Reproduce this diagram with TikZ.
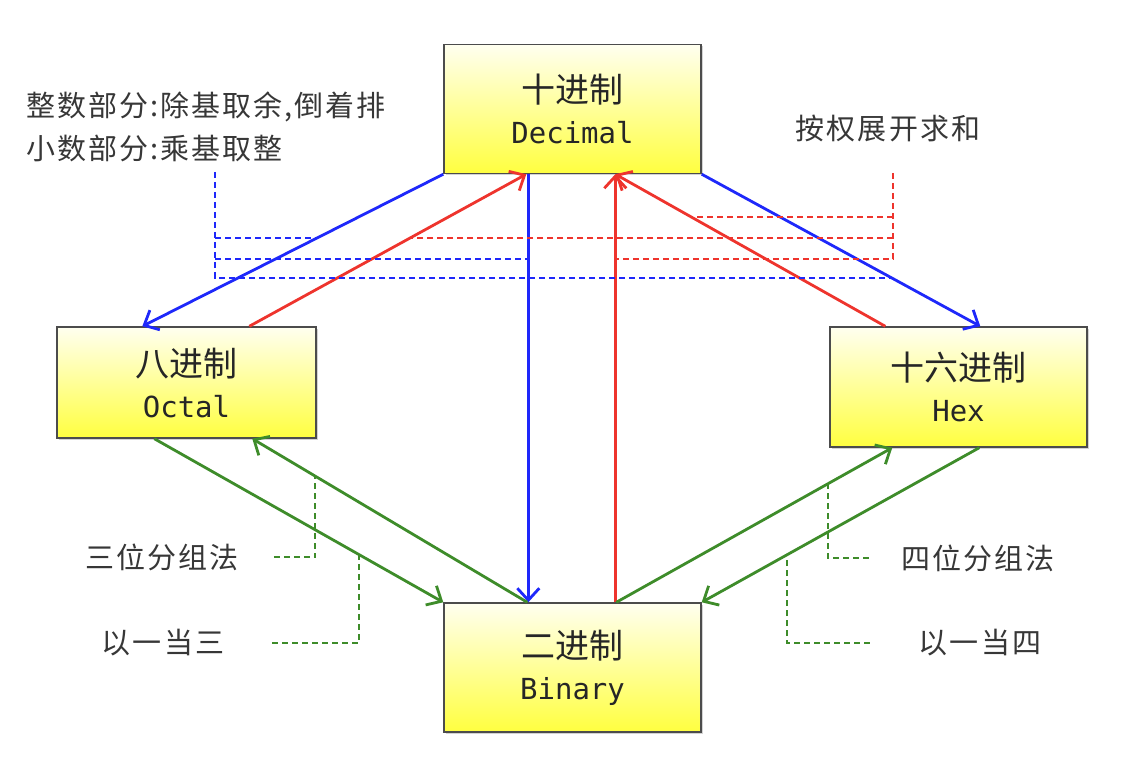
\documentclass[tikz,border=0pt]{standalone}
\usepackage{fontspec}
\usepackage{xcolor}
\usepackage{tikz}
\usetikzlibrary{calc,arrows.meta,shadows}
\newfontfamily\cnfont{Noto Sans CJK SC}
\newfontfamily\cnwide{Noto Sans CJK SC}[LetterSpace=7]
\newfontfamily\enfont{DejaVu Sans Mono}
\definecolor{convB}{RGB}{30,40,250}
\definecolor{convR}{RGB}{238,52,45}
\definecolor{convG}{RGB}{62,140,42}
\definecolor{noteC}{RGB}{55,55,55}
\colorlet{boxTop}{yellow!6}
\colorlet{boxBot}{yellow!75}
\newcommand{\radix}[2]{{\cnfont\fontsize{34}{41}\selectfont #1}\\{\enfont\fontsize{29}{41}\selectfont #2}}

\begin{document}
\begin{tikzpicture}[x=1pt, y=-1pt,
    numbox/.style={draw=black!70, line width=1.4pt, top color=boxTop, bottom color=boxBot,
      align=center, inner sep=0pt, text=black!85, font=\fontsize{30}{41}\selectfont,
      drop shadow={shadow xshift=1.5pt, shadow yshift=-1.5pt, opacity=0.35}},
    conv/.style={line width=2.8pt, -{Straight Barb[length=12pt,width=22pt]}},
    hint/.style={line width=1.8pt, dash pattern=on 6pt off 4pt},
    note/.style={text=noteC, font=\cnwide\fontsize{29}{36}\selectfont, inner sep=0pt}]
      \useasboundingbox (0,0) rectangle (1128,778);

      % Number systems
      \node[numbox, minimum width=257pt, minimum height=129pt] (dec) at (572.5,109) {\radix{十进制}{Decimal}};
      \node[numbox, minimum width=259pt, minimum height=111pt] (oct) at (186.5,382.5) {\radix{八进制}{Octal}};
      \node[numbox, minimum width=257pt, minimum height=120pt] (hex) at (958.5,387) {\radix{十六进制}{Hex}};
      \node[numbox, minimum width=257pt, minimum height=129pt] (bin) at (572.5,667.5) {\radix{二进制}{Binary}};

      % Decimal -> others (blue)
      \draw[conv, convB] (dec.south west) -- coordinate[pos=0.419] (b1) ([xshift=86pt]oct.north west);
      \draw[conv, convB] ([xshift=85pt]dec.south west) -- coordinate[pos=0.198] (b2) ([xshift=85pt]bin.north west);
      \draw[conv, convB] (dec.south east) -- coordinate[pos=0.682] (b3) ([xshift=151pt]hex.north west);

      % others -> Decimal (red)
      \draw[conv, convR] ([xshift=193pt]oct.north west) -- coordinate[pos=0.581] (r1) ([xshift=83pt]dec.south west);
      \draw[conv, convR] ([xshift=172pt]bin.north west) -- coordinate[pos=0.802] (r2) ([xshift=172pt]dec.south west);
      \draw[conv, convR] ([xshift=56pt]hex.north west) -- coordinate[pos=0.721] (r3) ([xshift=172pt]dec.south west);

      % Binary <-> Octal / Hex (green)
      \draw[conv, convG] ([xshift=98pt]oct.south west) -- coordinate[pos=0.709] (g1) (bin.north west);
      \draw[conv, convG] ([xshift=84pt]bin.north west) -- coordinate[pos=0.771] (g2) ([xshift=196pt]oct.south west);
      \draw[conv, convG] ([xshift=173pt]bin.north west) -- coordinate[pos=0.768] (g3) ([xshift=63pt]hex.south west);
      \draw[conv, convG] ([xshift=150pt]hex.south west) -- coordinate[pos=0.694] (g4) (bin.north east);

      % Notes
      \node[note, anchor=west] (intNote) at (26,107) {整数部分:除基取余,倒着排};
      \node[note, anchor=west] (fracNote) at (26,148) {小数部分:乘基取整};
      \node[note] (sumNote) at (888,128) {按权展开求和};
      \node[note] (oct3) at (162,557) {三位分组法};
      \node[note] (oct1) at (163,643) {以一当三};
      \node[note] (hex4) at (978,558) {四位分组法};
      \node[note] (hex1) at (980,643) {以一当四};

      % Bracket: decimal -> others
      \coordinate (bkB) at (215,172);
      \draw[hint, convB] (bkB) |- (b3);
      \draw[hint, convB] (bkB |- b1) -- (b1);
      \draw[hint, convB] (bkB |- b2) -- (b2);

      % Bracket: others -> decimal
      \coordinate (bkR) at (893,173);
      \draw[hint, convR] (bkR) |- (r2);
      \draw[hint, convR] (bkR |- r1) -- (r1);
      \draw[hint, convR] (bkR |- r3) -- (r3);

      % Grouping hints
      \draw[hint, convG] ([xshift=35pt]oct3.east) -| (g2);
      \draw[hint, convG] ([xshift=48pt]oct1.east) -| (g1);
      \draw[hint, convG] ([xshift=-32pt]hex4.west) -| (g3);
      \draw[hint, convG] ([xshift=-49pt]hex1.west) -| (g4);
    \end{tikzpicture}
\end{document}
